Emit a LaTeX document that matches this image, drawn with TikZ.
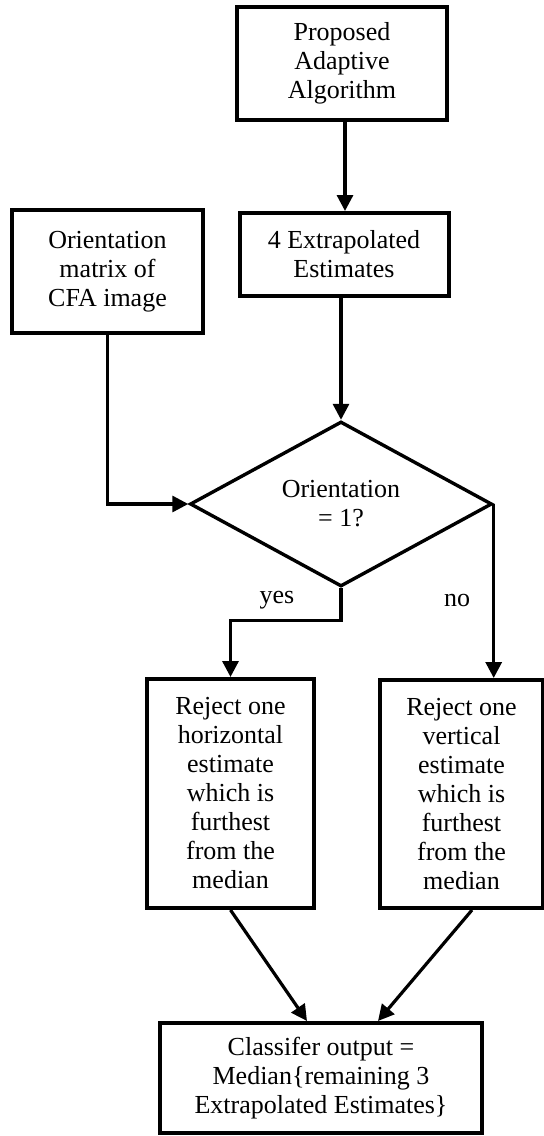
\documentclass[tikz,border=0pt]{standalone}
\usepackage{fontspec}
\setmainfont{Liberation Serif}
\usetikzlibrary{shapes.geometric,arrows.meta,calc}
\begin{document}
\begin{tikzpicture}[x=0.5pt,y=-0.5pt,
  box/.style={draw,line width=2pt,align=center,inner sep=0pt,
    font=\fontsize{13pt}{14.5pt}\selectfont},
  dec/.style={draw,diamond,line width=1.7pt,align=center,inner sep=0pt,
    minimum width=151pt,minimum height=81pt,
    font=\fontsize{13pt}{14.5pt}\selectfont},
  conn/.style={line width=1.6pt},
  arr/.style={conn,-{Triangle[length=8pt,width=8pt]}},
  lbl/.style={font=\fontsize{13pt}{14.5pt}\selectfont}]
\useasboundingbox[fill=white] (0,0) rectangle (544,1136);
\node[box,minimum width=105pt,minimum height=56.5pt] (b1) at (342,63.5)
  {Proposed\\Adaptive\\Algorithm};
\node[box,minimum width=104.5pt,minimum height=41.5pt] (b2) at (344,254.5)
  {4 Extrapolated\\Estimates};
\node[box,minimum width=95.5pt,minimum height=61.5pt] (ori) at (107.5,271.5)
  {Orientation\\matrix of\\CFA image};
\node[dec] (dia) at (341,504) {Orientation\\= 1?};
\node[box,minimum width=83.5pt,minimum height=114.5pt] (rl) at (230.5,793.5)
  {Reject one\\horizontal\\estimate\\which is\\furthest\\from the\\median};
\node[box,minimum width=81.5pt,minimum height=114pt] (rr) at (461.5,794)
  {Reject one\\vertical\\estimate\\which is\\furthest\\from the\\median};
\node[box,minimum width=161pt,minimum height=55pt] (cls) at (321,1078)
  {Classifer output =\\Median\{remaining 3\\Extrapolated Estimates\}};
\node[lbl] (yes) at (277,600) {yes};
\node[lbl] (no) at (457,600) {no};
\draw[arr] (b1.south -| 345,0) -- (b2.north -| 345,0);
\draw[arr] (dia.north |- b2.south) -- (dia.north);
\draw[arr] (ori.south) |- (dia.west);
\draw[arr] (dia.south) -- ++(0,-16pt) -| (rl.north);
\draw[arr] (dia.east) -- (dia.east |- rr.north);
\draw[arr] (rl.south) -- ($(cls.north)+(-7pt,0)$);
\draw[arr] ($(rr.south)+(5.25pt,0)$) -- ($(cls.north)+(28.5pt,0)$);
\end{tikzpicture}
\end{document}
